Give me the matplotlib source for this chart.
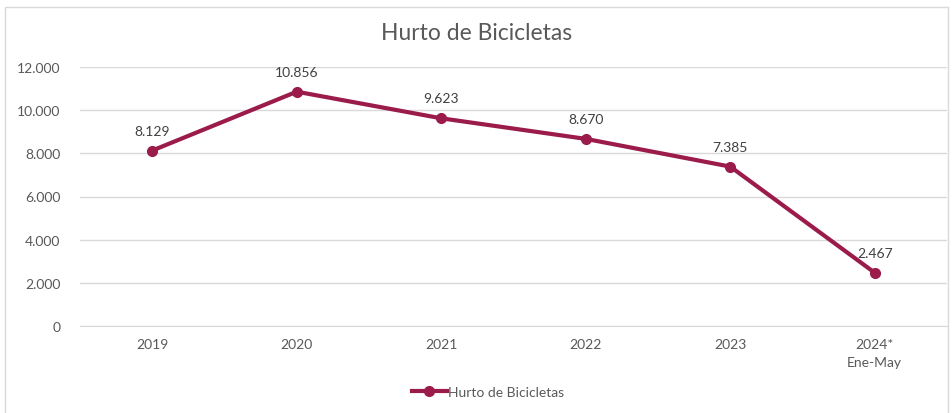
import matplotlib
matplotlib.use("Agg")
import matplotlib.pyplot as plt
from matplotlib.patches import Rectangle

plt.rcParams['font.family'] = ['Lato', 'DejaVu Sans']

# Hurto de bicicletas por año
years = ['2019', '2020', '2021', '2022', '2023', '2024*\nEne-May']
hurtos = [8129, 10856, 9623, 8670, 7385, 2467]
yticks = [0, 2000, 4000, 6000, 8000, 10000, 12000]

color = '#9b1b4b'
gray = '#595959'

def fmt(v):
    return f'{v:,}'.replace(',', '.')

fig = plt.figure(figsize=(9.53, 4.14), dpi=100)
fig.patches.append(Rectangle((5/953, -0.1), 943/953, 1.1 - 8/414, transform=fig.transFigure,
                             fill=False, edgecolor='#d9d9d9', linewidth=1))
ax = fig.add_axes([80/953, 1 - 327/414, 867/953, 259/414])

x = range(len(years))
line, = ax.plot(x, hurtos, color=color, linewidth=3, marker='o', markersize=7,
                label='Hurto de Bicicletas')
for i, v in enumerate(hurtos):
    ax.annotate(fmt(v), (i, v), xytext=(0, 10), textcoords='offset points',
                ha='center', va='bottom', fontsize=10, color='#404040')

ax.set_xlim(-0.5, len(years) - 0.5)
ax.set_ylim(0, 12000)
ax.set_yticks(yticks)
ax.set_yticklabels([fmt(t) for t in yticks])
ax.set_xticks(list(x))
ax.set_xticklabels(years, linespacing=1.6)
ax.tick_params(axis='both', length=0, labelsize=10, labelcolor=gray)
ax.tick_params(axis='y', pad=14)
ax.tick_params(axis='x', pad=9)
ax.grid(axis='y', color='#d9d9d9', linewidth=1)
ax.set_axisbelow(True)
for s in ['top', 'right', 'left']:
    ax.spines[s].set_visible(False)
ax.spines['bottom'].set_color('#d9d9d9')

fig.text(0.5, 1 - 34/414, 'Hurto de Bicicletas', ha='center', va='center',
         fontsize=16.5, color=gray)
fig.legend(handles=[line], loc='center', bbox_to_anchor=(488/953, 1 - 393/414),
           frameon=False, fontsize=10, labelcolor=gray, handlelength=2.5,
           handletextpad=0.1)

fig.savefig('out.png', dpi=100)
